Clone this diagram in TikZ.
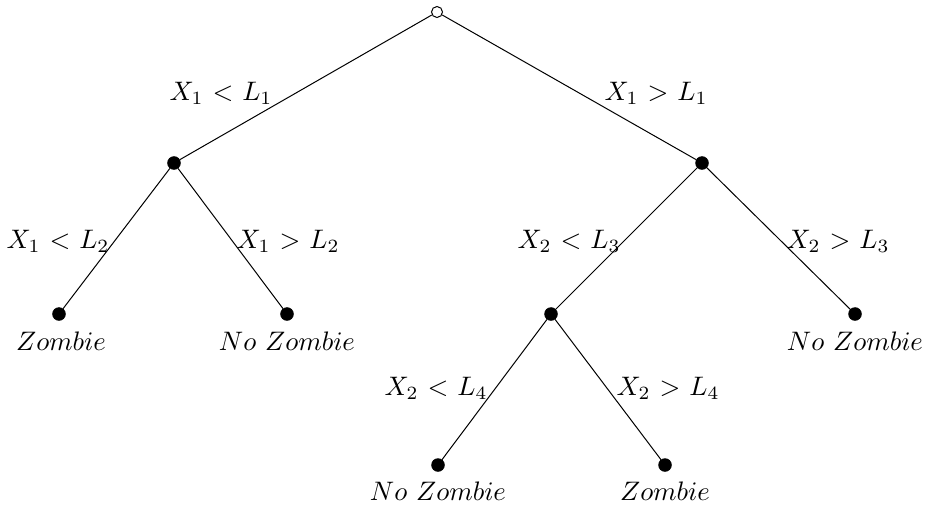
\documentclass[tikz,border=0pt]{standalone}
\usepackage{graphicx}
\newcommand{\mylbl}[1]{\scalebox{1.07}{#1}}
\begin{document}
\begin{tikzpicture}[x=0.4pt,y=-0.4pt,
  inner/.style={circle,fill=black,draw=black,inner sep=0pt,minimum size=5pt},
  rootnode/.style={circle,fill=white,draw=black,inner sep=0pt,minimum size=4.4pt},
  edgelab/.style={inner sep=1pt},
  leaflab/.style={inner sep=1pt},
  branch/.style={draw=black,line width=0.4pt}]
\useasboundingbox (0,0) rectangle (925,507);
% nodes
\node[rootnode] (r) at (437,12) {};
\node[inner] (a) at (174,163) {};
\node[inner] (b) at (702,163) {};
\node[inner] (a1) at (59,314) {};
\node[inner] (a2) at (287,314) {};
\node[inner] (b1) at (551,314) {};
\node[inner] (b2) at (855,314) {};
\node[inner] (c1) at (438,465) {};
\node[inner] (c2) at (665,465) {};
% connectors
\draw[branch] (r) -- (a);
\draw[branch] (r) -- (b);
\draw[branch] (a) -- (a1);
\draw[branch] (a) -- (a2);
\draw[branch] (b) -- (b1);
\draw[branch] (b) -- (b2);
\draw[branch] (b1) -- (c1);
\draw[branch] (b1) -- (c2);
% edge labels
\node[edgelab] (l1) at (221,93) {\mylbl{$X_1$ < $L_1$}};
\node[edgelab] (l2) at (656,93) {\mylbl{$X_1$ > $L_1$}};
\node[edgelab] (l3) at (58,241) {\mylbl{$X_1$ < $L_2$}};
\node[edgelab] (l4) at (288,241) {\mylbl{$X_1$ > $L_2$}};
\node[edgelab] (l5) at (569,241) {\mylbl{$X_2$ < $L_3$}};
\node[edgelab] (l6) at (838,241) {\mylbl{$X_2$ > $L_3$}};
\node[edgelab] (l7) at (436,388) {\mylbl{$X_2$ < $L_4$}};
\node[edgelab] (l8) at (668,388) {\mylbl{$X_2$ > $L_4$}};
% leaf labels
\node[leaflab] (t1) at (61,341) {\mylbl{$Zombie$}};
\node[leaflab] (t2) at (287,341) {\mylbl{$No\ Zombie$}};
\node[leaflab] (t3) at (855,341) {\mylbl{$No\ Zombie$}};
\node[leaflab] (t4) at (438,491) {\mylbl{$No\ Zombie$}};
\node[leaflab] (t5) at (665,491) {\mylbl{$Zombie$}};
\end{tikzpicture}
\end{document}
